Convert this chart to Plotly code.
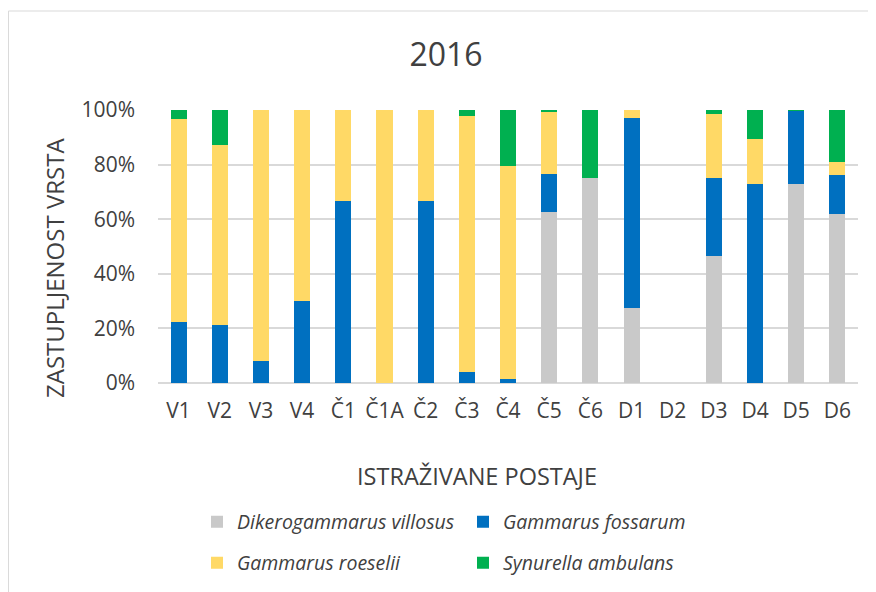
"""Species share per sampling station, 2016 (stacked 100% bars)."""

import plotly.graph_objects as go

# ─── Data ─────────────────────────────────────────────────────────────────────
STATIONS = ["V1", "V2", "V3", "V4", "Č1", "Č1A", "Č2", "Č3", "Č4",
            "Č5", "Č6", "D1", "D2", "D3", "D4", "D5", "D6"]

DIKEROGAMMARUS = [0, 0, 0, 0, 0, 0, 0, 0, 0,
                  62.6, 75.0, 27.3, 0, 46.5, 0, 72.8, 61.8]
FOSSARUM = [22.5, 21.3, 7.9, 30.1, 66.7, 0, 66.7, 4.1, 1.5,
            14.0, 0, 69.9, 0, 28.7, 72.9, 26.9, 14.3]
ROESELII = [74.2, 65.7, 92.1, 69.9, 33.3, 100, 33.3, 93.8, 78.0,
            22.6, 0, 2.8, 0, 23.2, 16.4, 0, 4.9]
SYNURELLA = [3.3, 13.0, 0, 0, 0, 0, 0, 2.1, 20.5,
             0.8, 25.0, 0, 0, 1.6, 10.7, 0.3, 19.0]

SERIES = [
    ("Dikerogammarus villosus", DIKEROGAMMARUS, "#C9C9C9", "legend"),
    ("Gammarus fossarum", FOSSARUM, "#0070C0", "legend"),
    ("Gammarus roeselii", ROESELII, "#FFD966", "legend2"),
    ("Synurella ambulans", SYNURELLA, "#00B050", "legend2"),
]

FONT = "Open Sans, sans-serif"
TEXT = "#404040"

fig = go.Figure()
for name, values, color, legend in SERIES:
    fig.add_trace(
        go.Bar(
            x=STATIONS,
            y=values,
            name=name,
            marker=dict(color=color, line=dict(width=0)),
            legend=legend,
        )
    )

legend_style = dict(
    orientation="h",
    xanchor="left",
    yanchor="middle",
    entrywidth=221,
    font=dict(family=FONT, size=19.5, color=TEXT, style="italic"),
    bgcolor="rgba(0,0,0,0)",
    traceorder="normal",
)

# the page body adds an 8px offset, so margins are shifted by that amount
fig.update_layout(
    width=876,
    height=592,
    margin=dict(l=150, r=26, t=102, b=217),
    paper_bgcolor="white",
    plot_bgcolor="white",
    barmode="stack",
    bargap=0.61,
    title=dict(
        text="2016",
        x=(446 - 8) / 876,
        xanchor="center",
        y=1 - 47 / 592,
        yanchor="middle",
        font=dict(family=FONT, size=32, color=TEXT),
    ),
    xaxis=dict(
        tickfont=dict(family=FONT, size=21, color=TEXT),
        ticklabelstandoff=13,
        showgrid=False,
        showline=False,
    ),
    yaxis=dict(
        range=[0, 100],
        tickvals=[0, 20, 40, 60, 80, 100],
        ticktext=["0%", "20%", "40%", "60%", "80%", "100%"],
        tickfont=dict(family=FONT, size=21, color=TEXT),
        ticklabelstandoff=22,
        showgrid=True,
        gridcolor="#D9D9D9",
        gridwidth=1.5,
        zeroline=True,
        zerolinecolor="#D9D9D9",
        zerolinewidth=1.5,
        showline=False,
    ),
    legend=dict(x=(197 - 158) / 700, y=(383 - 522) / 273, **legend_style),
    legend2=dict(x=(197 - 158) / 700, y=(383 - 563) / 273, **legend_style),
    annotations=[
        # axis titles are off-centre in the original, so placed by hand
        dict(text="ZASTUPLJENOST VRSTA", textangle=-90, showarrow=False,
             xref="paper", yref="paper",
             x=(54 - 158) / 700, y=(383 - 268) / 273,
             xanchor="center", yanchor="middle",
             font=dict(family=FONT, size=24, color=TEXT)),
        dict(text="ISTRAŽIVANE POSTAJE", showarrow=False,
             xref="paper", yref="paper",
             x=(477 - 158) / 700, y=(383 - 476) / 273,
             xanchor="center", yanchor="middle",
             font=dict(family=FONT, size=23.5, color=TEXT)),
    ],
    shapes=[
        dict(type="rect", xref="paper", yref="paper",
             x0=-0.2136, x1=1.2, y0=-0.9, y1=1.3626,
             line=dict(color="#D9D9D9", width=1), layer="below"),
    ],
)

fig.write_html("out.html")
